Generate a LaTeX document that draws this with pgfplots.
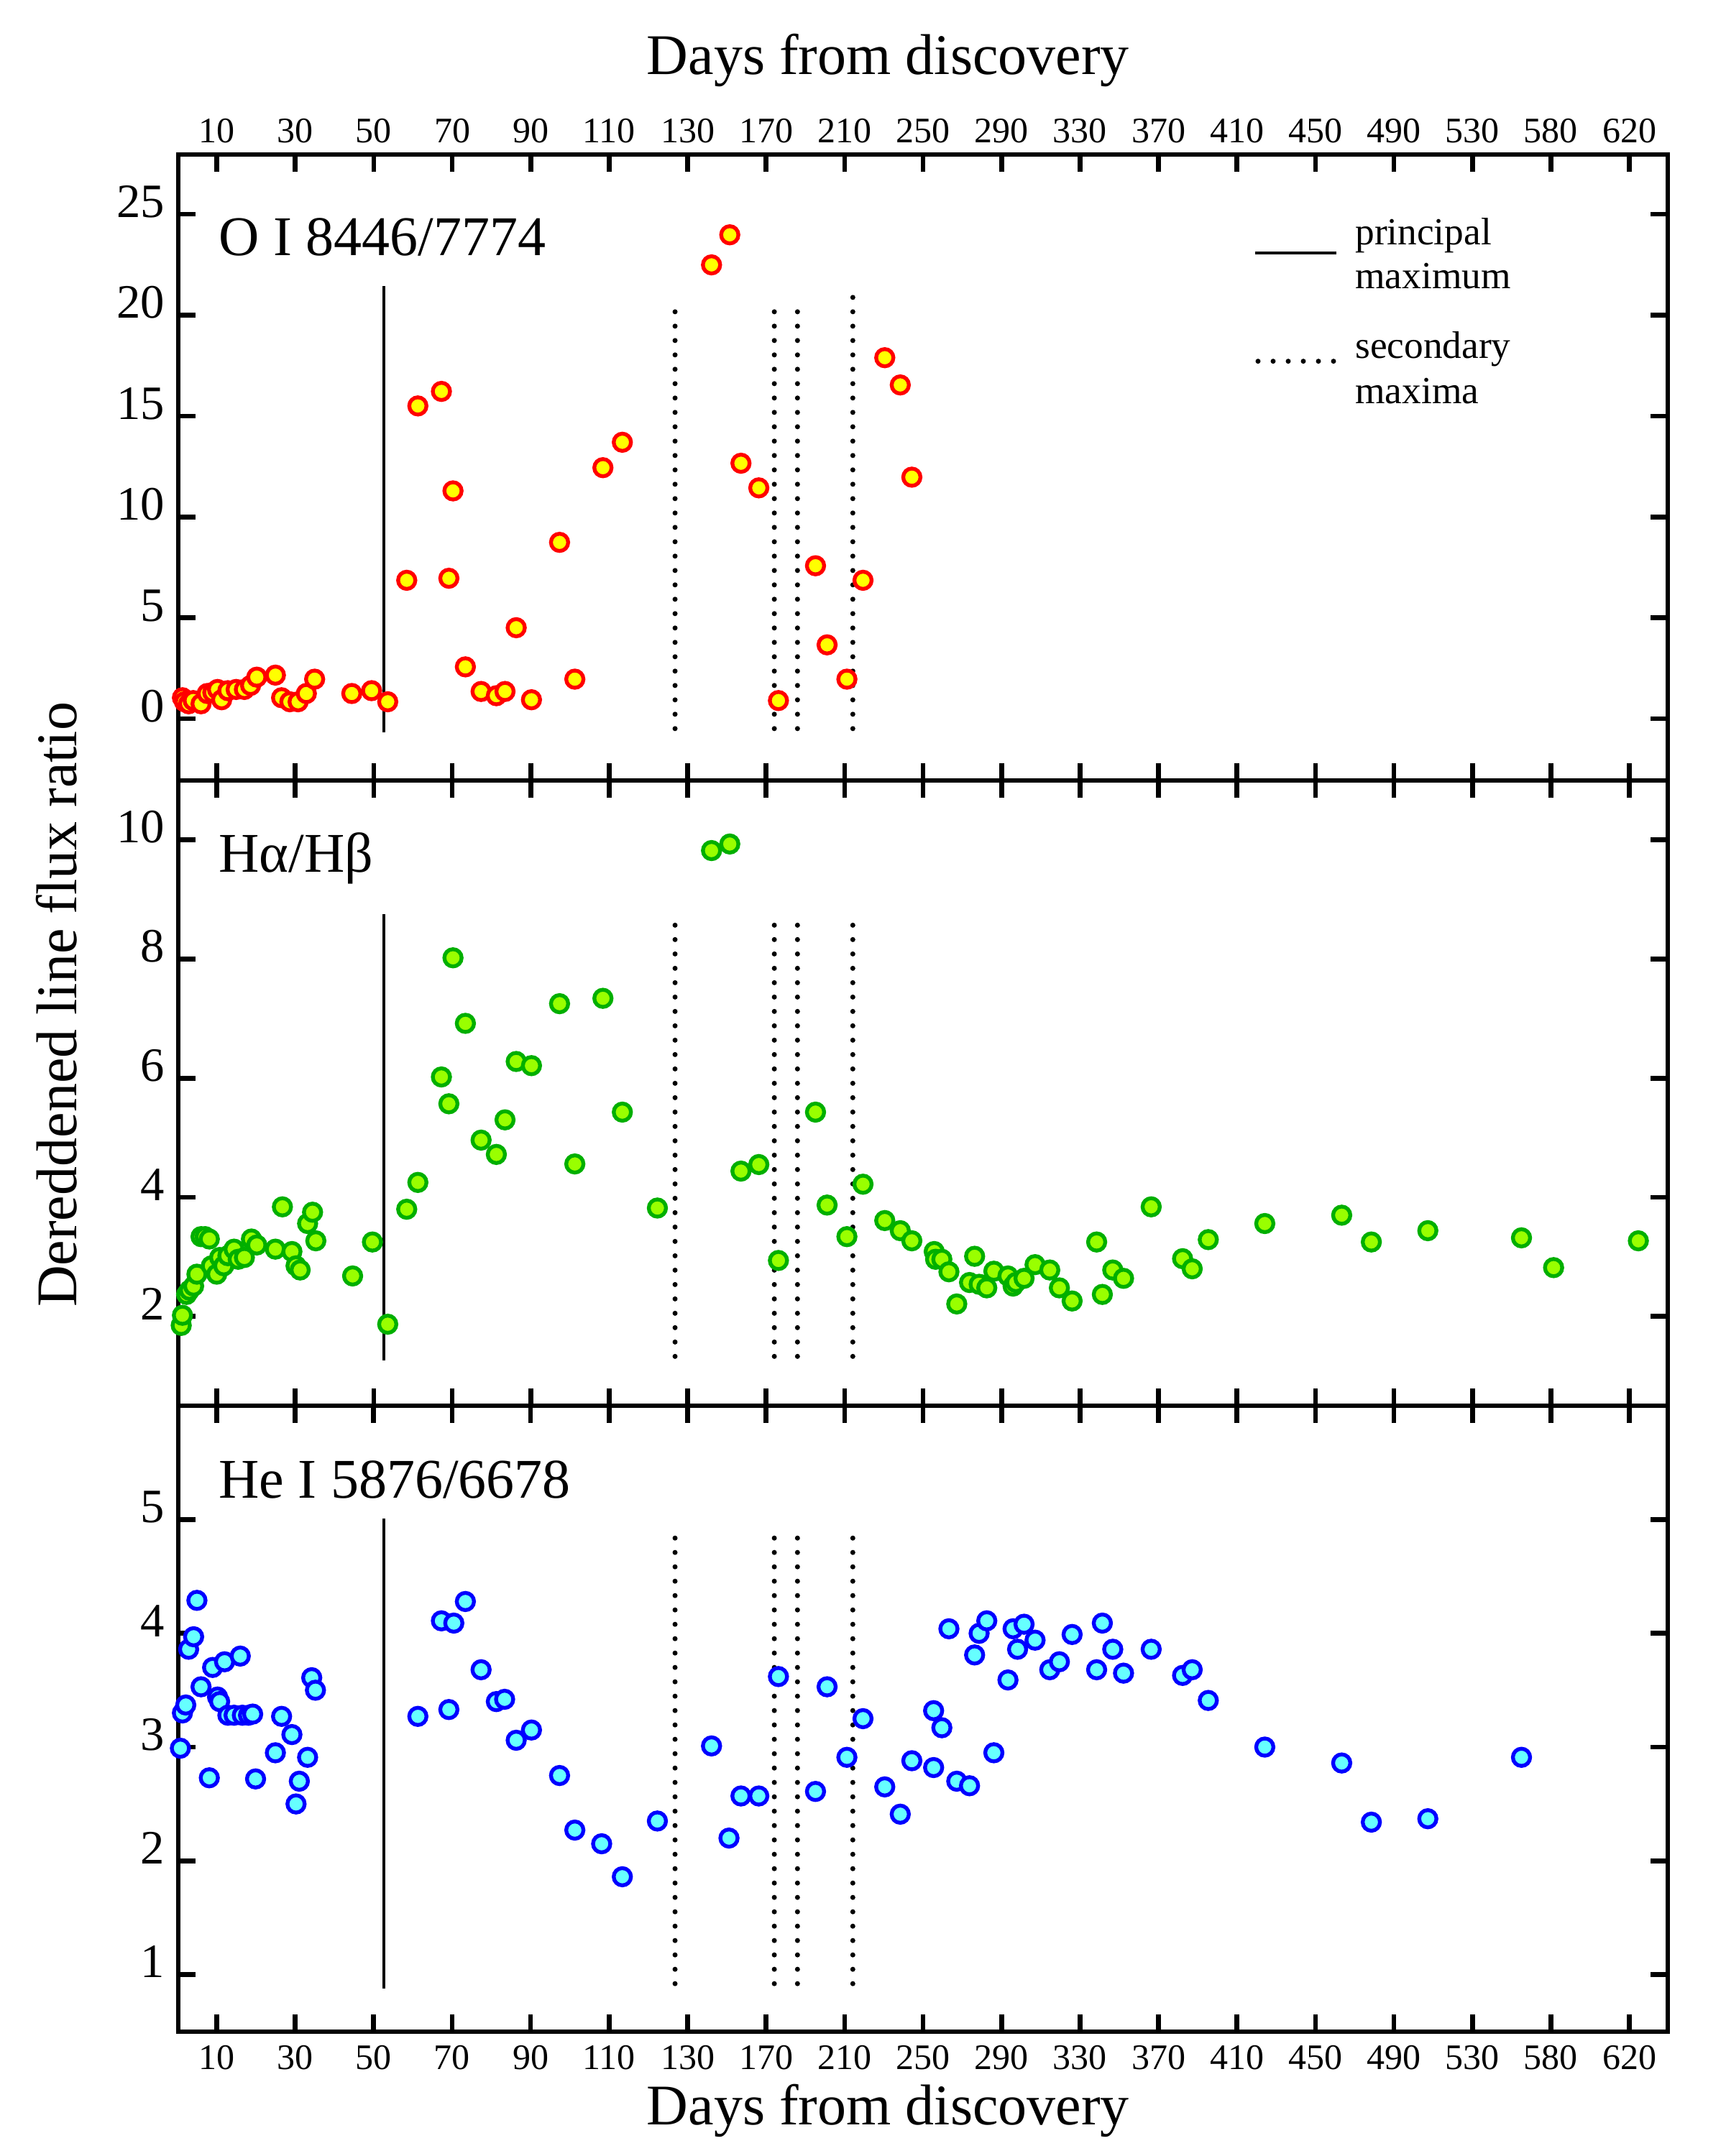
\documentclass[border=0pt]{standalone}
\usepackage{fontspec}
\setmainfont{Liberation Serif}
\usepackage{pgfplots}
\pgfplotsset{compat=1.18}

\definecolor{ofill}{RGB}{255,255,0}
\definecolor{oedge}{RGB}{255,0,0}
\definecolor{hfill}{RGB}{153,255,0}
\definecolor{hedge}{RGB}{0,175,0}
\definecolor{hefill}{RGB}{102,255,255}
\definecolor{heedge}{RGB}{0,0,255}

\pgfplotstableread{
d v
1.26 1.04
1.79 0.84
2.84 0.74
4.0 0.90
6.0 0.74
7.58 1.25
9.0 1.30
10.2 1.45
11.26 0.94
12.84 1.39
14.95 1.45
17.05 1.45
18.63 1.65
20.21 2.06
24.95 2.16
26.53 1.04
28.63 0.84
30.74 0.84
32.84 1.25
34.95 1.96
44.42 1.25
49.47 1.39
53.58 0.84
58.42 6.86
61.26 15.50
67.26 16.22
69.16 6.96
70.21 11.29
73.37 2.57
77.37 1.35
81.26 1.14
83.47 1.35
86.32 4.51
90.21 0.94
97.37 8.74
101.26 1.96
108.42 12.44
113.37 13.70
142.2 22.49
151.5 23.98
157.2 12.66
166.3 11.44
176.3 0.90
195.2 7.58
201.1 3.66
211.2 1.96
219.4 6.86
230.5 17.89
238.4 16.54
244.3 11.97
}\OItable

\pgfplotstableread{
d v
0.95 1.85
1.26 2.02
2.32 2.37
3.05 2.44
4.11 2.51
4.95 2.71
6.0 3.34
7.05 3.34
8.11 3.30
8.63 2.85
10.0 2.71
10.74 2.99
11.79 2.85
12.84 3.02
14.42 3.13
15.47 2.96
17.05 2.99
18.84 3.30
20.21 3.20
24.95 3.13
26.74 3.84
29.16 3.09
30.21 2.85
31.26 2.78
33.16 3.56
34.42 3.75
35.26 3.27
44.63 2.68
49.68 3.25
53.58 1.87
58.42 3.80
61.26 4.25
67.26 6.02
69.16 5.57
70.21 8.02
73.37 6.92
77.37 4.96
81.26 4.72
83.47 5.30
86.32 6.28
90.21 6.21
97.37 7.25
101.26 4.56
108.42 7.34
113.37 5.43
122.3 3.82
142.2 9.82
151.5 9.93
157.2 4.44
166.3 4.55
176.3 2.94
195.2 5.43
201.1 3.87
211.2 3.34
219.4 4.22
230.5 3.61
238.4 3.44
244.3 3.27
255.7 3.09
256.4 2.96
259.6 2.96
263.2 2.75
267.2 2.21
273.7 2.57
276.3 3.01
278.6 2.54
282.5 2.48
286.1 2.76
293.3 2.68
295.9 2.51
297.3 2.57
301.5 2.64
307.1 2.87
314.6 2.78
319.5 2.48
326.0 2.26
338.5 3.25
341.4 2.37
346.7 2.78
352.2 2.64
366.3 3.84
382.3 2.97
387.2 2.80
395.4 3.29
424.2 3.56
463.4 3.70
478.5 3.25
507.3 3.44
561.3 3.32
581.4 2.82
624.6 3.27
}\Htable

\pgfplotstableread{
d v
0.74 2.99
1.26 3.30
2.11 3.37
2.84 3.86
4.11 3.97
4.95 4.29
6.0 3.53
8.11 2.73
8.95 3.70
10.21 3.44
10.74 3.40
12.0 3.75
12.84 3.28
14.42 3.28
16.0 3.80
16.53 3.28
18.1 3.28
19.16 3.29
19.9 2.72
24.95 2.95
26.53 3.27
29.16 3.11
30.21 2.50
31.05 2.70
33.16 2.91
34.21 3.61
35.16 3.50
61.26 3.27
67.26 4.11
69.16 3.33
70.42 4.09
73.37 4.28
77.37 3.68
81.26 3.40
83.37 3.42
86.32 3.06
90.21 3.15
97.37 2.75
101.26 2.27
108.1 2.15
113.37 1.86
122.3 2.35
142.2 3.01
151.1 2.20
157.2 2.57
166.3 2.57
176.3 3.62
195.2 2.61
201.1 3.53
211.2 2.91
219.4 3.25
230.5 2.65
238.4 2.41
244.3 2.88
255.4 3.32
255.4 2.82
259.6 3.17
263.2 4.04
267.2 2.70
273.7 2.66
276.3 3.81
278.6 4.00
282.5 4.11
286.1 2.95
293.3 3.59
295.9 4.04
298.2 3.86
301.5 4.08
307.1 3.94
314.6 3.68
319.5 3.75
326.0 3.99
338.5 3.68
341.4 4.09
346.7 3.86
352.2 3.65
366.3 3.86
382.3 3.63
387.2 3.68
395.4 3.41
424.2 3.00
463.4 2.86
478.5 2.34
507.3 2.37
561.3 2.91
}\HeTable

\pgfplotsset{
  panel/.style={
    scale only axis, width=310.8pt, height=130.57pt,
    xmin=0.2, xmax=639.6,
    x coord trafo/.code={\pgfmathparse{(##1<=130)*((##1-10)/20)+and(##1>130,##1<=530)*(6+(##1-130)/40)+and(##1>530,##1<=580)*(16+(##1-530)/50)+(##1>580)*(17+(##1-580)/40)}},
    xtick={10,30,50,70,90,110,130,170,210,250,290,330,370,410,450,490,530,580,620},
    axis line style={line width=0.9pt},
    tick style={line width=1pt, black},
    major tick length=3.6pt,
    tick align=inside,
    /pgf/number format/assume math mode=true,
    yticklabel style={font=\fontsize{10}{12}\selectfont, anchor=base east, inner sep=0pt, xshift=-2.7pt, yshift=-0.65pt},
    xticklabel style={font=\fontsize{7.5}{9}\selectfont, inner sep=0pt},
  },
  dlabels/.style={xticklabels={10,30,50,70,90,110,130,170,210,250,290,330,370,410,450,490,530,580,620}},
  solidmax/.style={black, line width=0.6pt, no markers},
  dotmax/.style={black, line width=1.05pt, dash pattern=on 0pt off 3pt, line cap=round, no markers},
  pm/.style 2 args={only marks, mark=*, mark size=1.8pt, mark options={fill=#1, draw=#2, line width=0.8pt}},
}

\begin{document}
\begin{tikzpicture}
\path[use as bounding box] (0pt,0pt) rectangle (360pt,450pt);

% ---------- top panel ----------
\begin{axis}[panel, at={(37.2pt,287.14pt)}, anchor=south west,
  ymin=-3.05, ymax=27.95, ytick={0,5,10,15,20,25},
  dlabels, xticklabel pos=upper,
  xticklabel style={anchor=base, yshift=2.55pt}]
\addplot[solidmax] coordinates {(52.6,-0.69) (52.6,21.43)};
\addplot[dotmax] coordinates {(126.8,-0.49) (126.8,20.85)};
\addplot[dotmax] coordinates {(174.2,-0.49) (174.2,20.85)};
\addplot[dotmax] coordinates {(186.0,-0.49) (186.0,20.85)};
\addplot[dotmax] coordinates {(214.2,-0.49) (214.2,20.96)};
\addplot[pm={ofill}{oedge}] table[x=d, y=v] {\OItable};
\end{axis}

% ---------- middle panel ----------
\begin{axis}[panel, at={(37.2pt,156.57pt)}, anchor=south west,
  ymin=0.5, ymax=11, ytick={2,4,6,8,10}, xticklabels={,,}]
\addplot[solidmax] coordinates {(52.6,1.26) (52.6,8.75)};
\addplot[dotmax] coordinates {(126.8,1.33) (126.8,8.58)};
\addplot[dotmax] coordinates {(174.2,1.33) (174.2,8.58)};
\addplot[dotmax] coordinates {(186.0,1.33) (186.0,8.58)};
\addplot[dotmax] coordinates {(214.2,1.33) (214.2,8.74)};
\addplot[pm={hfill}{hedge}] table[x=d, y=v] {\Htable};
\end{axis}

% ---------- bottom panel ----------
\begin{axis}[panel, at={(37.2pt,26.0pt)}, anchor=south west,
  ymin=0.5, ymax=6, ytick={1,2,3,4,5},
  dlabels, xticklabel style={anchor=base, yshift=-7.95pt}]
\addplot[solidmax] coordinates {(52.6,0.88) (52.6,5.01)};
\addplot[dotmax] coordinates {(126.8,0.92) (126.8,4.96)};
\addplot[dotmax] coordinates {(174.2,0.92) (174.2,4.96)};
\addplot[dotmax] coordinates {(186.0,0.92) (186.0,4.96)};
\addplot[dotmax] coordinates {(214.2,0.92) (214.2,4.96)};
\addplot[pm={hefill}{heedge}] table[x=d, y=v] {\HeTable};
\end{axis}

% panel labels
\node[anchor=base west, inner sep=0pt, font=\fontsize{11.7}{14}\selectfont] at (45.45pt,396.6pt) {O I 8446/7774};
\node[anchor=base west, inner sep=0pt, font=\fontsize{11.7}{14}\selectfont] at (45.45pt,268.0pt) {Hα/Hβ};
\node[anchor=base west, inner sep=0pt, font=\fontsize{11.7}{14}\selectfont] at (45.45pt,137.3pt) {He I 5876/6678};

% legend
\draw[line width=0.7pt] (261.9pt,397.2pt) -- (278.85pt,397.2pt);
\draw[line width=1.05pt, dash pattern=on 0pt off 3.15pt, line cap=round] (262.5pt,374.6pt) -- (278.3pt,374.6pt);
\node[anchor=base west, inner sep=0pt, font=\fontsize{8}{9}\selectfont] at (282.6pt,398.9pt) {principal};
\node[anchor=base west, inner sep=0pt, font=\fontsize{8}{9}\selectfont] at (282.6pt,389.7pt) {maximum};
\node[anchor=base west, inner sep=0pt, font=\fontsize{8}{9}\selectfont] at (282.6pt,375.2pt) {secondary};
\node[anchor=base west, inner sep=0pt, font=\fontsize{8}{9}\selectfont] at (282.6pt,365.7pt) {maxima};

% axis titles
\node[anchor=base, inner sep=0pt, font=\fontsize{12}{14}\selectfont] at (185.3pt,434.4pt) {Days from discovery};
\node[anchor=base, inner sep=0pt, font=\fontsize{12}{14}\selectfont] at (185.3pt,6.5pt) {Days from discovery};
\node[rotate=90, anchor=base, inner sep=0pt, font=\fontsize{12}{14}\selectfont] at (15.9pt,240.3pt) {Dereddened line flux ratio};
\end{tikzpicture}
\end{document}
